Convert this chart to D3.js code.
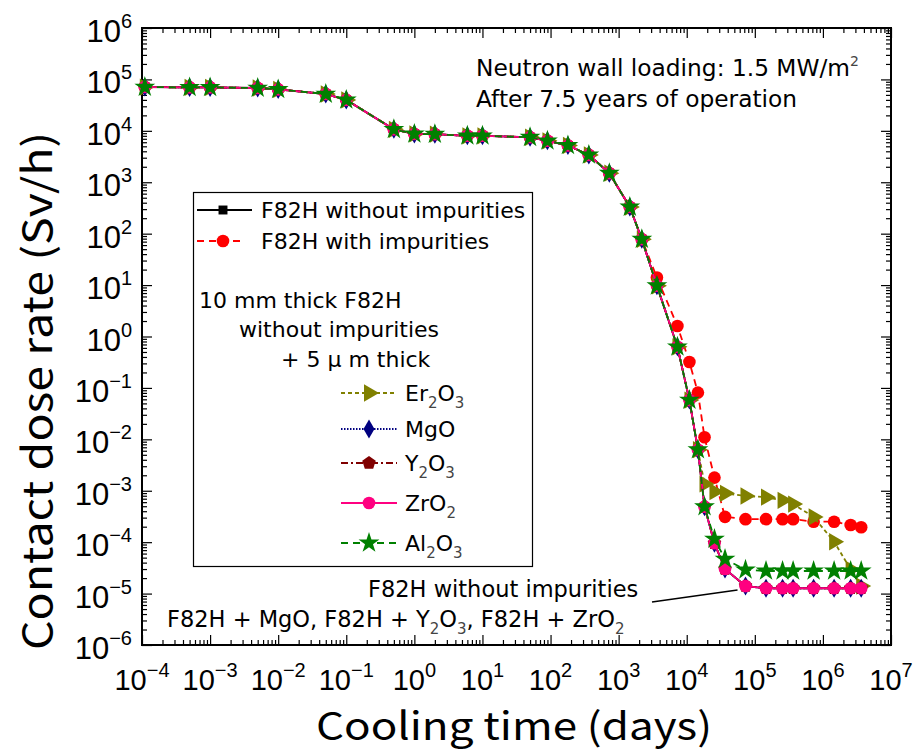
<!DOCTYPE html>
<html>
<head>
<meta charset="utf-8">
<script src="https://cdn.jsdelivr.net/npm/d3@7"></script>
<style>
  html, body { margin: 0; padding: 0; background: #fff; }
  svg { display: block; }
</style>
</head>
<body>
<svg id="chart" width="920" height="752"></svg>
<script>
// Cooling times (days) shared by every calculation
const coolingDays = [1.1e-4, 5e-4, 1e-3, 5e-3, 1e-2, 5e-2, 0.1, 0.5, 1, 2, 6, 10, 50, 90, 180, 365, 730,
  1460, 2190, 3650, 7300, 10950, 14600, 18250, 25550, 36500, 73000, 146000, 255500, 365000, 730000,
  1460000, 2555000, 3650000];

// Contact dose rate (Sv/h) for each material case
const f82hPure = [7.1e4, 7.0e4, 7.0e4, 6.8e4, 6.4e4, 5.2e4, 4.0e4, 1.07e4, 8.7e3, 8.6e3, 8.0e3, 8.0e3, 7.5e3,
  6.4e3, 5.2e3, 3.4e3, 1.5e3, 330, 78, 9.7, 0.63, 0.058, 6.3e-3, 4.9e-4, 9.5e-5, 3.0e-5, 1.4e-5,
  1.27e-5, 1.27e-5, 1.27e-5, 1.27e-5, 1.27e-5, 1.27e-5, 1.27e-5];
const f82hImpure = [7.1e4, 7.0e4, 7.0e4, 6.8e4, 6.4e4, 5.2e4, 4.0e4, 1.07e4, 8.7e3, 8.6e3, 8.0e3, 8.0e3, 7.5e3,
  6.4e3, 5.2e3, 3.4e3, 1.5e3, 330, 78, 14, 1.6, 0.32, 0.081, 0.011, 1.8e-3, 3.1e-4, 2.8e-4,
  2.8e-4, 2.8e-4, 2.8e-4, 2.5e-4, 2.5e-4, 2.16e-4, 1.95e-4];
const er2o3 = [7.1e4, 7.0e4, 7.0e4, 6.8e4, 6.4e4, 5.2e4, 4.0e4, 1.07e4, 8.7e3, 8.6e3, 8.0e3, 8.0e3, 7.5e3,
  6.4e3, 5.2e3, 3.4e3, 1.5e3, 330, 78, 9.7, 0.63, 0.058, 6.3e-3, 1.36e-3, 9.6e-4, 8.9e-4, 7.9e-4,
  7.5e-4, 6.5e-4, 5.5e-4, 3.1e-4, 1.02e-4, 2.95e-5, 1.4e-5];
const mgo = [7.1e4, 7.0e4, 7.0e4, 6.8e4, 6.4e4, 5.2e4, 4.0e4, 1.07e4, 8.7e3, 8.6e3, 8.0e3, 8.0e3, 7.5e3,
  6.4e3, 5.2e3, 3.4e3, 1.5e3, 330, 78, 9.7, 0.63, 0.058, 6.3e-3, 4.9e-4, 9.5e-5, 3.0e-5, 1.4e-5,
  1.27e-5, 1.27e-5, 1.27e-5, 1.27e-5, 1.27e-5, 1.27e-5, 1.27e-5];
const y2o3 = [7.1e4, 7.0e4, 7.0e4, 6.8e4, 6.4e4, 5.2e4, 4.0e4, 1.07e4, 8.7e3, 8.6e3, 8.0e3, 8.0e3, 7.5e3,
  6.4e3, 5.2e3, 3.4e3, 1.5e3, 330, 78, 9.7, 0.63, 0.058, 6.3e-3, 4.9e-4, 9.5e-5, 3.0e-5, 1.4e-5,
  1.27e-5, 1.27e-5, 1.27e-5, 1.27e-5, 1.27e-5, 1.27e-5, 1.27e-5];
const zro2 = [7.1e4, 7.0e4, 7.0e4, 6.8e4, 6.4e4, 5.2e4, 4.0e4, 1.07e4, 8.7e3, 8.6e3, 8.0e3, 8.0e3, 7.5e3,
  6.4e3, 5.2e3, 3.4e3, 1.5e3, 330, 78, 9.7, 0.63, 0.058, 6.3e-3, 4.9e-4, 9.5e-5, 3.0e-5, 1.4e-5,
  1.27e-5, 1.27e-5, 1.27e-5, 1.27e-5, 1.27e-5, 1.27e-5, 1.27e-5];
const al2o3 = [7.1e4, 7.0e4, 7.0e4, 6.8e4, 6.4e4, 5.2e4, 4.0e4, 1.07e4, 8.7e3, 8.6e3, 8.0e3, 8.0e3, 7.5e3,
  6.4e3, 5.2e3, 3.4e3, 1.5e3, 330, 78, 9.7, 0.63, 0.058, 6.3e-3, 4.9e-4, 1.15e-4, 4.7e-5, 2.9e-5,
  2.75e-5, 2.75e-5, 2.75e-5, 2.75e-5, 2.75e-5, 2.75e-5, 2.75e-5];

// Decade exponents used for tick labels
const xExponents = [-4, -3, -2, -1, 0, 1, 2, 3, 4, 5, 6, 7];
const yExponents = [-6, -5, -4, -3, -2, -1, 0, 1, 2, 3, 4, 5, 6];

// Right-pointing triangle and pentagon marker shapes
const symbolTriRight = {
  draw(ctx, size) {
    const s = Math.sqrt(size * 4 / Math.sqrt(3));
    const h = s * Math.sqrt(3) / 2;
    ctx.moveTo(h * 2 / 3, 0);
    ctx.lineTo(-h / 3, -s / 2);
    ctx.lineTo(-h / 3, s / 2);
    ctx.closePath();
  }
};
const symbolPentagon = {
  draw(ctx, size) {
    const r = Math.sqrt(size / (2.5 * Math.sin(2 * Math.PI / 5)));
    for (let i = 0; i < 5; i++) {
      const a = -Math.PI / 2 + i * 2 * Math.PI / 5;
      const px = r * Math.cos(a), py = r * Math.sin(a);
      if (i === 0) ctx.moveTo(px, py); else ctx.lineTo(px, py);
    }
    ctx.closePath();
  }
};

const series = [
  { name: "F82H without impurities", values: f82hPure, color: "#000000", dash: null, symbol: d3.symbolSquare, size: 80 },
  { name: "F82H with impurities", values: f82hImpure, color: "#ff0000", dash: "7,5", symbol: d3.symbolCircle, size: 125 },
  { name: "Er2O3", values: er2o3, color: "#808000", dash: "4,3", symbol: symbolTriRight, size: 130 },
  { name: "MgO", values: mgo, color: "#000080", dash: "1.5,1.5", symbol: d3.symbolDiamond, size: 105 },
  { name: "Y2O3", values: y2o3, color: "#800000", dash: "7,3,2,3", symbol: symbolPentagon, size: 120 },
  { name: "ZrO2", values: zro2, color: "#ff0080", dash: null, symbol: d3.symbolCircle, size: 125 },
  { name: "Al2O3", values: al2o3, color: "#008000", dash: "7,5", symbol: d3.symbolStar, size: 135 }
];

const svg = d3.select("#chart");
const plotLeft = 142, plotRight = 891, plotTop = 28, plotBottom = 645;

const x = d3.scaleLog().domain([1e-4, 1e7]).range([plotLeft, plotRight]);
const y = d3.scaleLog().domain([1e-6, 1e6]).range([plotBottom, plotTop]);

const majorX = xExponents.map(e => Math.pow(10, e));
const majorY = yExponents.map(e => Math.pow(10, e));
const minorX = [], minorY = [];
xExponents.slice(0, -1).forEach(e => { for (let k = 2; k < 10; k++) minorX.push(k * Math.pow(10, e)); });
yExponents.slice(0, -1).forEach(e => { for (let k = 2; k < 10; k++) minorY.push(k * Math.pow(10, e)); });

// Inward ticks on all four sides
function addAxis(axisFn, scale, values, len, transform) {
  svg.append("g")
    .attr("transform", transform)
    .call(axisFn(scale).tickValues(values).tickSize(len).tickFormat(""))
    .call(g => g.select(".domain").remove())
    .call(g => g.selectAll(".tick line").attr("stroke", "#000").attr("stroke-width", 1.2));
}
addAxis(d3.axisBottom, x, majorX, -10, `translate(0,${plotBottom})`);
addAxis(d3.axisBottom, x, minorX, -5, `translate(0,${plotBottom})`);
addAxis(d3.axisTop, x, majorX, -10, `translate(0,${plotTop})`);
addAxis(d3.axisTop, x, minorX, -5, `translate(0,${plotTop})`);
addAxis(d3.axisLeft, y, majorY, -10, `translate(${plotLeft},0)`);
addAxis(d3.axisLeft, y, minorY, -5, `translate(${plotLeft},0)`);
addAxis(d3.axisRight, y, majorY, -10, `translate(${plotRight},0)`);
addAxis(d3.axisRight, y, minorY, -5, `translate(${plotRight},0)`);

svg.append("rect")
  .attr("x", plotLeft).attr("y", plotTop)
  .attr("width", plotRight - plotLeft).attr("height", plotBottom - plotTop)
  .attr("fill", "none").attr("stroke", "#000").attr("stroke-width", 2);

// Tick labels: 10 with superscript exponent
const tickFont = "'Liberation Sans', Arial, sans-serif";
function powLabel(sel, e, supSize, rise) {
  sel.append("tspan").text("10");
  sel.append("tspan").attr("dy", -rise).attr("font-size", supSize).text(e < 0 ? "\u2212" + (-e) : String(e));
}
xExponents.forEach(e => {
  const t = svg.append("text")
    .attr("x", x(Math.pow(10, e))).attr("y", 690)
    .attr("text-anchor", "middle")
    .attr("font-family", tickFont).attr("font-size", 29);
  powLabel(t, e, 20, 13);
});
yExponents.forEach(e => {
  const t = svg.append("text")
    .attr("x", 132).attr("y", y(Math.pow(10, e)) + 14)
    .attr("text-anchor", "end")
    .attr("font-family", tickFont).attr("font-size", 31);
  powLabel(t, e, 20, 14);
});

// Axis titles
const titleFont = "'Noto Sans CJK JP', 'Noto Sans', sans-serif";
svg.append("text")
  .attr("x", 514).attr("y", 740)
  .attr("text-anchor", "middle")
  .attr("font-family", titleFont).attr("font-size", 38)
  .attr("textLength", 396).attr("lengthAdjust", "spacingAndGlyphs")
  .text("Cooling time (days)");
svg.append("text")
  .attr("transform", "translate(52,391) rotate(-90)")
  .attr("text-anchor", "middle")
  .attr("font-family", titleFont).attr("font-size", 40)
  .attr("textLength", 518).attr("lengthAdjust", "spacingAndGlyphs")
  .text("Contact dose rate (Sv/h)");

// Data series
const line = d3.line().x(d => x(d[0])).y(d => y(d[1]));
const plot = svg.append("g");
series.forEach(s => {
  const pts = coolingDays.map((t, i) => [t, s.values[i]]);
  plot.append("path")
    .attr("d", line(pts))
    .attr("fill", "none").attr("stroke", s.color).attr("stroke-width", 1.8)
    .attr("stroke-dasharray", s.dash);
  plot.append("g").selectAll("path")
    .data(pts).join("path")
    .attr("transform", d => `translate(${x(d[0])},${y(d[1])})`)
    .attr("d", d3.symbol().type(s.symbol).size(s.size))
    .attr("fill", s.color);
});

// Annotations
const textFont = "'DejaVu Sans', 'Noto Sans', sans-serif";
const note1 = svg.append("text").attr("x", 476).attr("y", 76)
  .attr("font-family", textFont).attr("font-size", 23.3);
note1.append("tspan").text("Neutron wall loading: 1.5 MW/m");
note1.append("tspan").attr("dy", -10).attr("font-size", 14).attr("fill", "#444").text("2");
svg.append("text").attr("x", 476).attr("y", 107)
  .attr("font-family", textFont).attr("font-size", 23.3)
  .text("After 7.5 years of operation");

// Text with chemical subscripts; parts flagged sub are lowered and shrunk
function chemLabel(sel, parts) {
  let shift = 0;
  parts.forEach(p => {
    const t = sel.append("tspan").text(p.t);
    if (p.sub) {
      t.attr("dy", 7 - shift).attr("font-size", 15).attr("fill", "#444");
      shift = 7;
    } else {
      if (shift) t.attr("dy", -shift);
      shift = 0;
    }
  });
}

svg.append("text").attr("x", 368).attr("y", 597)
  .attr("font-family", textFont).attr("font-size", 22.5)
  .text("F82H without impurities");
const note2 = svg.append("text").attr("x", 167).attr("y", 627)
  .attr("font-family", textFont).attr("font-size", 22.5);
chemLabel(note2, [{ t: "F82H + MgO, F82H + Y" }, { t: "2", sub: true }, { t: "O" }, { t: "3", sub: true },
  { t: ", F82H + ZrO" }, { t: "2", sub: true }]);
svg.append("line")
  .attr("x1", 652).attr("y1", 602).attr("x2", x(coolingDays[26]) - 8).attr("y2", y(zro2[26]) + 4)
  .attr("stroke", "#000").attr("stroke-width", 1.5);

// Legend
const lg = svg.append("g");
lg.append("rect").attr("x", 193.5).attr("y", 192.5).attr("width", 339).attr("height", 374)
  .attr("fill", "#fff").attr("stroke", "#000").attr("stroke-width", 1.2);

function legendEntry(s, x1, x2, mx, yy, tx, labelParts) {
  lg.append("line").attr("x1", x1).attr("x2", x2).attr("y1", yy).attr("y2", yy)
    .attr("stroke", s.color).attr("stroke-width", 1.8).attr("stroke-dasharray", s.dash);
  lg.append("path").attr("transform", `translate(${mx},${yy})`)
    .attr("d", d3.symbol().type(s.symbol).size(s.size)).attr("fill", s.color);
  const t = lg.append("text").attr("x", tx).attr("y", yy + 8)
    .attr("font-family", textFont).attr("font-size", 22);
  chemLabel(t, labelParts);
}
legendEntry(series[0], 197, 252, 223, 210, 261, [{ t: "F82H without impurities" }]);
legendEntry(series[1], 197, 245, 223, 241, 261, [{ t: "F82H with impurities" }]);

lg.append("text").attr("x", 199).attr("y", 308).attr("font-family", textFont).attr("font-size", 22)
  .text("10 mm thick F82H");
lg.append("text").attr("x", 239).attr("y", 337).attr("font-family", textFont).attr("font-size", 22)
  .text("without impurities");
lg.append("text").attr("x", 281).attr("y", 367).attr("font-family", textFont).attr("font-size", 22)
  .text("+ 5  \u03bc m thick");

legendEntry(series[2], 341, 397, 369, 393, 405, [{ t: "Er" }, { t: "2", sub: true }, { t: "O" }, { t: "3", sub: true }]);
legendEntry(series[3], 341, 397, 369, 429, 405, [{ t: "MgO" }]);
legendEntry(series[4], 341, 397, 369, 463, 405, [{ t: "Y" }, { t: "2", sub: true }, { t: "O" }, { t: "3", sub: true }]);
legendEntry(series[5], 341, 397, 369, 503, 405, [{ t: "ZrO" }, { t: "2", sub: true }]);
legendEntry(series[6], 341, 397, 369, 543, 405, [{ t: "Al" }, { t: "2", sub: true }, { t: "O" }, { t: "3", sub: true }]);
</script>
</body>
</html>
